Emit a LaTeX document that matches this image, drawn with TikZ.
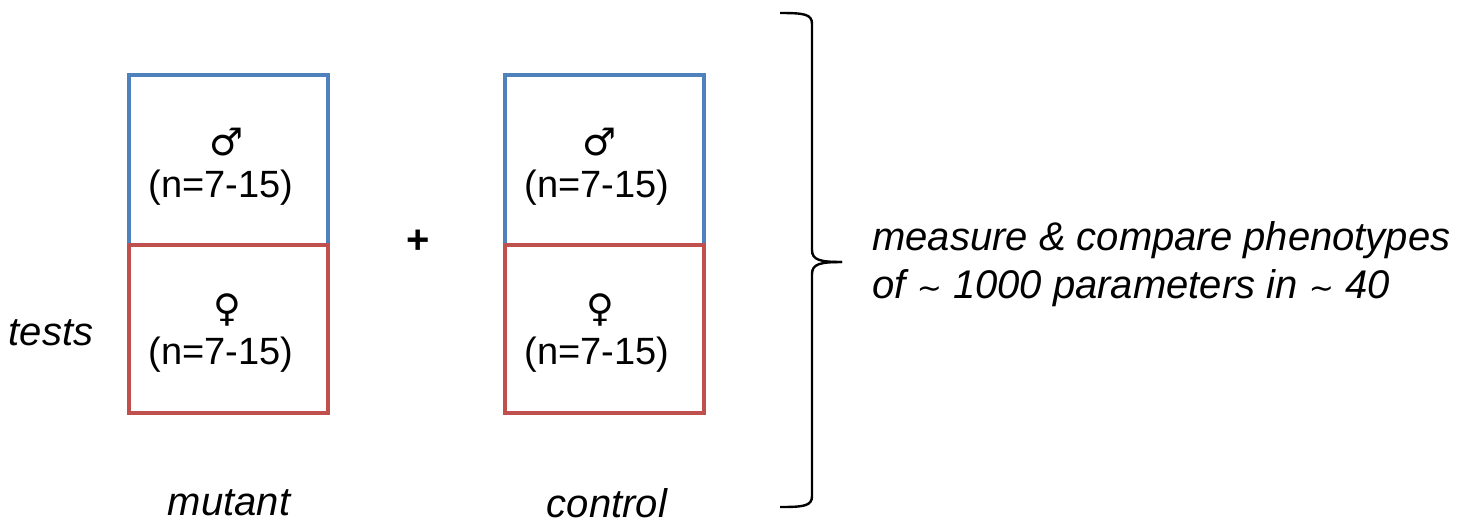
\documentclass[tikz,border=0pt]{standalone}
\usepackage{fontspec}
\setmainfont{Liberation Sans}
\newfontfamily\symfont{DejaVu Sans}
\definecolor{mblue}{HTML}{4F81BD}
\definecolor{mred}{HTML}{C0504D}
\newcommand{\tld}{{\symfont\fontsize{15}{24}\selectfont ∼}}
\begin{document}
\begin{tikzpicture}[x=0.5pt,y=-0.5pt,
  malebox/.style={draw=mblue,line width=2pt,minimum width=99.5pt,minimum height=85pt,inner sep=0pt},
  femalebox/.style={draw=mred,line width=2pt,minimum width=99.5pt,minimum height=84pt,inner sep=0pt},
  ntext/.style={font=\fontsize{19}{22}\selectfont,inner sep=0pt},
  sym/.style={font=\symfont\fontsize{19}{22}\selectfont,inner sep=0pt},
  ital/.style={font=\fontsize{20}{24}\selectfont\itshape,inner sep=0pt}]
\useasboundingbox (0,0) rectangle (1461,526);
% left (mutant)
\node[malebox] (mm) at (228.5,160) {};
\node[femalebox] (mf) at (228.5,329) {};
\node[sym] (mms) at (227,142) {♂};
\node[ntext] (mmn) at (221,188) {(n=7-15)};
\node[sym] (mfs) at (227,310) {♀};
\node[ntext] (mfn) at (221,355) {(n=7-15)};
% right (control)
\node[malebox] (cm) at (604.5,160) {};
\node[femalebox] (cf) at (604.5,329) {};
\node[sym] (cms) at (600,142) {♂};
\node[ntext] (cmn) at (597,188) {(n=7-15)};
\node[sym] (cfs) at (600,310) {♀};
\node[ntext] (cfn) at (597,355) {(n=7-15)};
% labels
\node[font=\fontsize{20}{24}\selectfont\bfseries,inner sep=0pt] (plus) at (418,242) {+};
\node[ital] (tests) at (51,333) {tests};
\node[ital] (mut) at (229,503) {mutant};
\node[ital] (ctl) at (607,503) {control};
\node[ital,anchor=west,align=left] (meas) at (872,264) {measure \& compare phenotypes\\of \tld{} 1000 parameters in \tld{} 40};
% brace
\coordinate (bt) at (780,13);
\coordinate (bb) at (780,507);
\coordinate (btip) at (842,262);
\draw[line width=1.2pt] (bt) .. controls (804,13) and (812,14) .. (812,24) -- (812,250)
  .. controls (812,260) and (820,262) .. (btip);
\draw[line width=1.2pt] (bb) .. controls (804,507) and (812,506) .. (812,496) -- (812,274)
  .. controls (812,264) and (820,262) .. (btip);
\end{tikzpicture}
\end{document}
